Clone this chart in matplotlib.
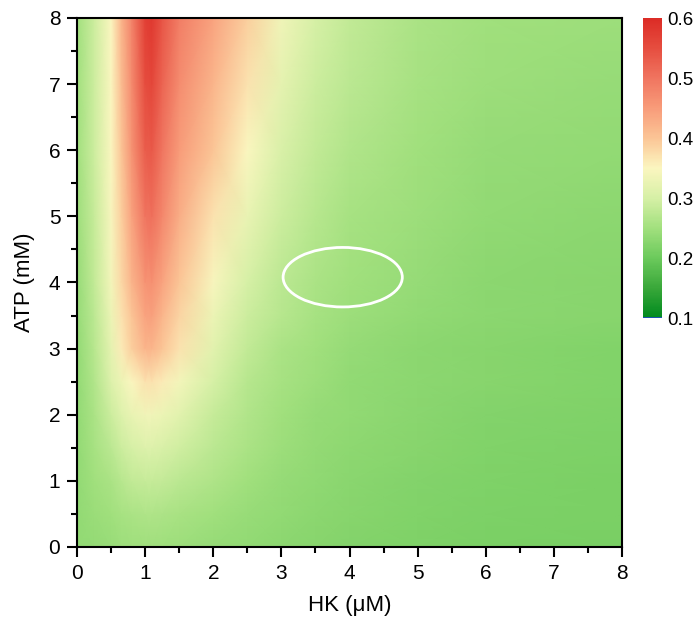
import numpy as np
import matplotlib
matplotlib.use("Agg")
import matplotlib.pyplot as plt
from matplotlib.colors import LinearSegmentedColormap
from matplotlib.patches import Ellipse
from matplotlib.ticker import MultipleLocator

plt.rcParams['font.family'] = ['Liberation Sans', 'DejaVu Sans']

# grid (HK in uM, ATP in mM)
hk = [0, 0.25, 0.5, 0.65, 0.8, 1.0, 1.1, 1.25, 1.5, 2.0, 2.5, 3.0, 3.5, 4.0, 5.0, 6.0, 8.0]
atp = [0, 0.5, 1, 1.5, 2, 2.5, 3, 3.5, 4, 5, 6, 7, 8]

# one row per ATP value, bottom to top
z_rows = [
    [0.235, 0.238, 0.242, 0.245, 0.247, 0.248, 0.248, 0.247, 0.245, 0.24, 0.235, 0.23, 0.226, 0.222, 0.218, 0.215, 0.213],
    [0.235, 0.243, 0.25, 0.255, 0.26, 0.263, 0.263, 0.262, 0.258, 0.25, 0.242, 0.235, 0.23, 0.225, 0.22, 0.216, 0.214],
    [0.235, 0.25, 0.26, 0.27, 0.28, 0.285, 0.285, 0.282, 0.275, 0.263, 0.25, 0.24, 0.233, 0.228, 0.222, 0.218, 0.215],
    [0.235, 0.255, 0.275, 0.29, 0.30, 0.31, 0.31, 0.305, 0.295, 0.275, 0.26, 0.245, 0.237, 0.232, 0.226, 0.22, 0.216],
    [0.235, 0.26, 0.29, 0.31, 0.325, 0.335, 0.335, 0.33, 0.315, 0.285, 0.265, 0.25, 0.24, 0.235, 0.228, 0.222, 0.218],
    [0.235, 0.265, 0.31, 0.33, 0.35, 0.37, 0.37, 0.36, 0.34, 0.30, 0.27, 0.255, 0.245, 0.235, 0.23, 0.225, 0.22],
    [0.235, 0.27, 0.32, 0.36, 0.39, 0.42, 0.42, 0.40, 0.37, 0.315, 0.28, 0.26, 0.25, 0.24, 0.23, 0.225, 0.22],
    [0.24, 0.275, 0.33, 0.37, 0.40, 0.44, 0.445, 0.42, 0.385, 0.33, 0.29, 0.27, 0.255, 0.245, 0.235, 0.23, 0.225],
    [0.24, 0.28, 0.34, 0.38, 0.42, 0.46, 0.465, 0.44, 0.40, 0.345, 0.30, 0.275, 0.26, 0.25, 0.24, 0.23, 0.225],
    [0.245, 0.285, 0.345, 0.39, 0.44, 0.50, 0.505, 0.475, 0.43, 0.37, 0.325, 0.29, 0.27, 0.255, 0.245, 0.235, 0.23],
    [0.25, 0.29, 0.35, 0.40, 0.46, 0.53, 0.535, 0.50, 0.45, 0.40, 0.35, 0.305, 0.28, 0.265, 0.25, 0.24, 0.235],
    [0.25, 0.29, 0.35, 0.41, 0.47, 0.55, 0.56, 0.52, 0.47, 0.42, 0.37, 0.32, 0.29, 0.275, 0.255, 0.245, 0.24],
    [0.25, 0.29, 0.35, 0.42, 0.48, 0.57, 0.58, 0.54, 0.49, 0.44, 0.39, 0.335, 0.30, 0.28, 0.26, 0.25, 0.245],
]

cbar_ticks = [0.1, 0.2, 0.3, 0.4, 0.5, 0.6]

cmap = LinearSegmentedColormap.from_list("gyr", [
    (0.0, "#008a1e"),
    (0.1, "#3aa83a"),
    (0.2, "#6cca5c"),
    (0.3, "#a2e07e"),
    (0.4, "#d6f0a6"),
    (0.5, "#fbf6c0"),
    (0.6, "#fbc596"),
    (0.7, "#f89c7a"),
    (0.8, "#f07560"),
    (0.9, "#e64e40"),
    (1.0, "#dc2c26"),
])

fig = plt.figure(figsize=(6.95, 6.22), dpi=100)
ax = fig.add_axes([0.1108, 0.1206, 0.7842, 0.8505])

X, Y = np.meshgrid(hk, atp)
mesh = ax.pcolormesh(X, Y, np.array(z_rows), cmap=cmap, vmin=0.1, vmax=0.6,
                     shading='gouraud', rasterized=True)

ax.add_patch(Ellipse((3.9, 4.08), 1.75, 0.9, fill=False, ec='white', lw=2))

ax.set_xlim(0, 8)
ax.set_ylim(0, 8)
ax.xaxis.set_major_locator(MultipleLocator(1))
ax.yaxis.set_major_locator(MultipleLocator(1))
ax.xaxis.set_minor_locator(MultipleLocator(0.5))
ax.yaxis.set_minor_locator(MultipleLocator(0.5))
ax.tick_params(which='major', direction='out', length=7, width=1.5, labelsize=15, pad=5)
ax.tick_params(which='minor', direction='out', length=4, width=1.5)
for s in ax.spines.values():
    s.set_linewidth(1.5)
ax.set_xlabel("HK (\u03bcM)", fontsize=16, labelpad=9)
ax.set_ylabel("ATP (mM)", fontsize=16, labelpad=10)

cax = fig.add_axes([0.925, 0.4887, 0.0273, 0.482])
cb = fig.colorbar(mesh, cax=cax, ticks=cbar_ticks)
cb.outline.set_visible(False)
cax.tick_params(length=0, labelsize=13.5, pad=4)
cax.axhline(0.1, color='#2050c0', lw=2)

fig.savefig("out.png", dpi=100)
